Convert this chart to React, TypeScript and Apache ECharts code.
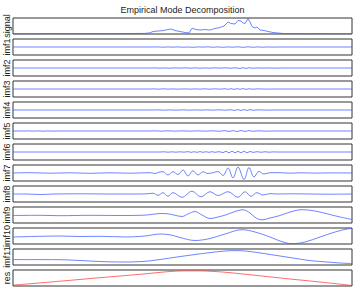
import React, { useEffect, useRef } from "react";
import * as echarts from "echarts";

const chartTitle = "Empirical Mode Decomposition";
const panelNames = ["signal", "imf1", "imf2", "imf3", "imf4", "imf5", "imf6", "imf7", "imf8", "imf9", "imf10", "imf11", "res"];

// [sample index, value]
const signal: [number, number][] = [
  [0, 0.3], [17, 0.2], [37, 0.5], [57, 0.3], [77, 0.4], [97, 0.3], [117, 0.5], [132, 0.6], [137, 1.2], [140, 2.5],
  [145, 3], [150, 3.4], [155, 4.5], [158, 5], [162, 3.5], [167, 2.5], [172, 1.5], [176, 1], [179, 5.8], [183, 4.5],
  [187, 4], [192, 4.5], [197, 4], [202, 5.5], [207, 6.5], [211, 8], [215, 12], [218, 10.5], [222, 10], [225, 13.5],
  [228, 13], [230, 11], [232, 10.5], [235, 15.5], [237, 12], [239, 7.5], [242, 6], [244, 7], [247, 4], [251, 3.5],
  [255, 2.5], [260, 1.5], [265, 1], [270, 0.5], [277, 0.3], [287, 0.4], [297, 0.2], [307, 0.4], [317, 0.2], [327, 0.3], [339, 0.2],
];
const imf1: [number, number][] = [
  [0, 0], [140, 0], [145, 0.1], [150, -0.2], [155, 0.05], [160, -0.15], [165, 0.1], [170, -0.2], [175, 0], [180, -0.3],
  [185, 0.1], [190, -0.1], [195, 0.15], [200, -0.25], [205, 0.1], [210, -0.3], [215, 0.1], [220, -0.2], [225, 0.2], [230, -0.35],
  [235, 0.2], [240, -0.25], [245, 0.1], [250, -0.2], [255, 0.05], [260, -0.1], [265, 0], [270, 0], [339, 0],
];
const imf2: [number, number][] = [
  [0, 0], [137, 0], [142, 0.1], [147, -0.15], [152, 0.05], [157, -0.2], [162, 0.1], [167, -0.1], [172, 0.15], [177, -0.15],
  [182, 0.1], [187, -0.2], [192, 0.05], [197, -0.15], [202, 0.15], [207, -0.15], [212, 0.2], [217, -0.2], [222, 0.15], [227, -0.4],
  [230, 0.35], [233, -0.45], [236, 0.3], [240, -0.2], [245, 0.1], [250, -0.15], [255, 0.05], [262, -0.1], [272, 0], [339, 0],
];
const imf3: [number, number][] = [
  [0, 0], [137, 0], [141, 0.15], [145, -0.2], [150, 0.15], [155, -0.1], [160, 0.1], [165, -0.15], [172, 0.1], [177, -0.15],
  [182, 0.1], [187, -0.1], [192, 0.15], [197, -0.2], [202, 0.2], [207, -0.15], [212, 0.3], [215, -0.35], [218, 0.3], [221, -0.4],
  [224, 0.35], [227, -0.3], [230, 0.4], [233, -0.35], [236, 0.25], [240, -0.2], [245, 0.15], [252, -0.1], [262, 0], [339, 0],
];
const imf4: [number, number][] = [
  [0, 0], [140, 0], [145, 0.15], [150, -0.15], [156, 0.1], [162, -0.15], [170, 0.15], [176, -0.15], [182, 0.1], [188, -0.15],
  [194, 0.15], [200, -0.15], [206, 0.2], [212, -0.2], [217, 0.25], [222, -0.4], [225, 0.45], [228, -0.5], [231, 0.45], [234, -0.4],
  [237, 0.35], [240, -0.25], [245, 0.15], [252, -0.1], [262, 0], [339, 0],
];
const imf5: [number, number][] = [
  [0, 0], [12, 0], [16, 0.15], [20, -0.15], [25, 0.1], [30, -0.15], [35, 0.1], [40, -0.1], [47, 0], [137, 0],
  [142, 0.15], [148, -0.15], [155, 0.15], [162, -0.1], [170, 0.15], [177, -0.15], [185, 0.15], [192, -0.15], [200, 0.2], [206, -0.25],
  [212, 0.35], [216, -0.45], [220, 0.4], [224, -0.55], [228, 0.5], [232, -0.45], [236, 0.4], [240, -0.3], [245, 0.2], [252, -0.15],
  [262, 0], [339, 0],
];
const imf6: [number, number][] = [
  [0, 0], [147, 0], [151, 0.2], [155, -0.2], [159, 0.15], [163, -0.2], [167, 0.2], [171, -0.15], [175, 0.35], [178, -0.35],
  [181, 0.3], [184, -0.35], [187, 0.4], [190, -0.35], [193, 0.3], [196, -0.35], [199, 0.35], [202, -0.3], [206, 0.35], [210, -0.6],
  [213, 0.7], [216, -0.8], [219, 0.85], [222, -0.8], [225, 0.7], [228, -0.85], [231, 0.9], [234, -0.8], [237, 0.55], [240, -0.4],
  [244, 0.3], [248, -0.25], [252, 0.25], [256, -0.2], [260, 0.1], [264, 0], [339, 0],
];
const imf7: [number, number][] = [
  [0, 0], [17, 0.3], [37, -0.2], [57, 0.2], [77, -0.3], [97, 0.2], [117, -0.2], [132, 0.2], [137, 0.3], [142, -0.5],
  [146, 0.8], [150, 1.3], [155, -2], [160, 1.3], [165, -1.5], [170, 3], [175, -3], [180, 2.3], [185, -2], [190, 1.2],
  [195, -0.5], [200, 0.3], [205, 1.5], [210, -2.5], [215, 5], [220, -5], [225, 6], [231, -6.5], [236, 5.5], [241, -4],
  [246, 1.6], [251, -1], [257, 0.3], [267, 0.3], [277, -0.2], [287, 0.2], [302, -0.1], [317, 0.1], [339, 0],
];
const imf8: [number, number][] = [
  [0, 0], [12, 0], [27, -0.5], [42, 0], [67, 0.2], [97, 0], [127, 0], [135, 0.3], [140, 0.8], [145, -1.3],
  [150, 1.3], [155, -2.2], [160, 1.4], [169, -3.3], [179, 2.8], [188, -2.8], [197, 2.3], [205, -1.5], [215, 2.3], [225, -3.3],
  [232, 2.3], [238, -2.3], [244, 1.3], [250, -1], [257, 0.4], [264, 0], [277, 0.2], [297, 0], [317, -0.2], [339, 0],
];
const imf9: [number, number][] = [
  [0, -0.5], [27, -0.3], [47, -0.7], [77, -0.3], [107, -0.5], [127, -0.3], [137, 0.3], [147, 1.5], [155, 1.2], [162, -0.3],
  [169, -1.5], [175, 1], [182, 3.5], [189, 0], [197, -3.5], [205, -2], [214, 0.5], [222, 3.5], [230, 5.2], [237, 2],
  [243, -3], [249, -4.8], [257, -3], [267, -0.5], [277, 3], [289, 5.3], [302, 4], [317, 0.5], [327, -2], [339, -4.5],
];
const imf10: [number, number][] = [
  [0, -1], [27, -0.3], [47, 0], [67, -0.5], [87, -0.3], [114, -1], [132, 0], [147, 2], [157, 1.2], [167, -1.5],
  [182, -4.5], [197, -2.5], [212, 2], [229, 6.3], [242, 4], [257, -1], [267, -5], [279, -7.7], [292, -6], [307, -1],
  [322, 4], [335, 7.2], [339, 7.5],
];
const imf11: [number, number][] = [
  [0, -2.6], [17, -2.6], [47, -2.7], [67, -3.5], [87, -4.5], [107, -5], [130, -4.5], [147, -2.5], [164, 0], [182, 2.5],
  [197, 4.4], [212, 6], [224, 6.4], [237, 5.5], [250, 3.6], [267, 1], [280, -1], [297, -3.6], [314, -5], [327, -6], [339, -6.6],
];
const res: [number, number][] = [
  [0, 0.8], [47, 4.8], [87, 8.3], [127, 11.7], [157, 14.5], [172, 15.1], [187, 15.1], [202, 14.5], [217, 13.3], [247, 10.2],
  [277, 7], [307, 4], [339, 0.5],
];

const panelData = [signal, imf1, imf2, imf3, imf4, imf5, imf6, imf7, imf8, imf9, imf10, imf11, res];
const panelRanges: [number, number][] = [
  [0, 16], [-8, 8], [-8, 8], [-8, 8], [-8, 8], [-8, 8], [-8, 8], [-8, 8], [-8, 8], [-8, 8], [-8, 8], [-8, 8], [0, 16],
];
const smoothPanels = [false, false, false, false, false, false, false, true, true, true, true, true, true];
const sampleCount = 339;

const FONT = "'Liberation Sans', Arial, Helvetica, sans-serif";
const BLUE = "#3d5cff";
const RED = "#ff3a3a";

export default function App() {
  const ref = useRef<HTMLDivElement>(null);
  useEffect(() => {
    if (!ref.current) return;
    const chart = echarts.init(ref.current, undefined, { renderer: "svg" });
    const left = 13;
    const width = 339;
    const top0 = 18;
    const step = 21;
    const h = 16;
    const grids = panelNames.map((_, i) => ({
      left,
      top: top0 + step * i,
      width,
      height: h,
      show: true,
      borderColor: "#333",
      borderWidth: 1,
      backgroundColor: "#fff",
      containLabel: false,
    }));
    const xAxes = panelNames.map((_, i) => ({
      type: "value" as const,
      gridIndex: i,
      min: 0,
      max: sampleCount,
      show: false,
    }));
    const yAxes = panelNames.map((_, i) => ({
      type: "value" as const,
      gridIndex: i,
      min: panelRanges[i][0],
      max: panelRanges[i][1],
      show: false,
    }));
    const series = panelNames.map((name, i) => ({
      type: "line" as const,
      name,
      xAxisIndex: i,
      yAxisIndex: i,
      data: panelData[i],
      showSymbol: false,
      smooth: smoothPanels[i] ? 0.35 : false,
      lineStyle: { color: i === panelNames.length - 1 ? RED : BLUE, width: 0.75 },
      itemStyle: { color: i === panelNames.length - 1 ? RED : BLUE },
      clip: true,
    }));
    const labels = panelNames.map((name, i) => ({
      type: "text" as const,
      x: 7,
      y: top0 + step * i + h / 2,
      rotation: Math.PI / 2,
      style: {
        text: name,
        fontSize: 9,
        fontFamily: FONT,
        fill: "#222",
        align: "center",
        verticalAlign: "middle",
      },
    }));
    chart.setOption({
      animation: false,
      backgroundColor: "#fff",
      grid: grids,
      xAxis: xAxes,
      yAxis: yAxes,
      series,
      graphic: [
        {
          type: "text",
          x: left + width / 2,
          y: 9.5,
          style: {
            text: chartTitle,
            fontSize: 9,
            fontFamily: FONT,
            fill: "#222",
            align: "center",
            verticalAlign: "middle",
          },
        },
        ...labels,
      ],
    });
    return () => chart.dispose();
  }, []);
  return (
    <div
      ref={ref}
      style={{ position: "fixed", left: 0, top: 0, width: 355, height: 291 }}
    />
  );
}
